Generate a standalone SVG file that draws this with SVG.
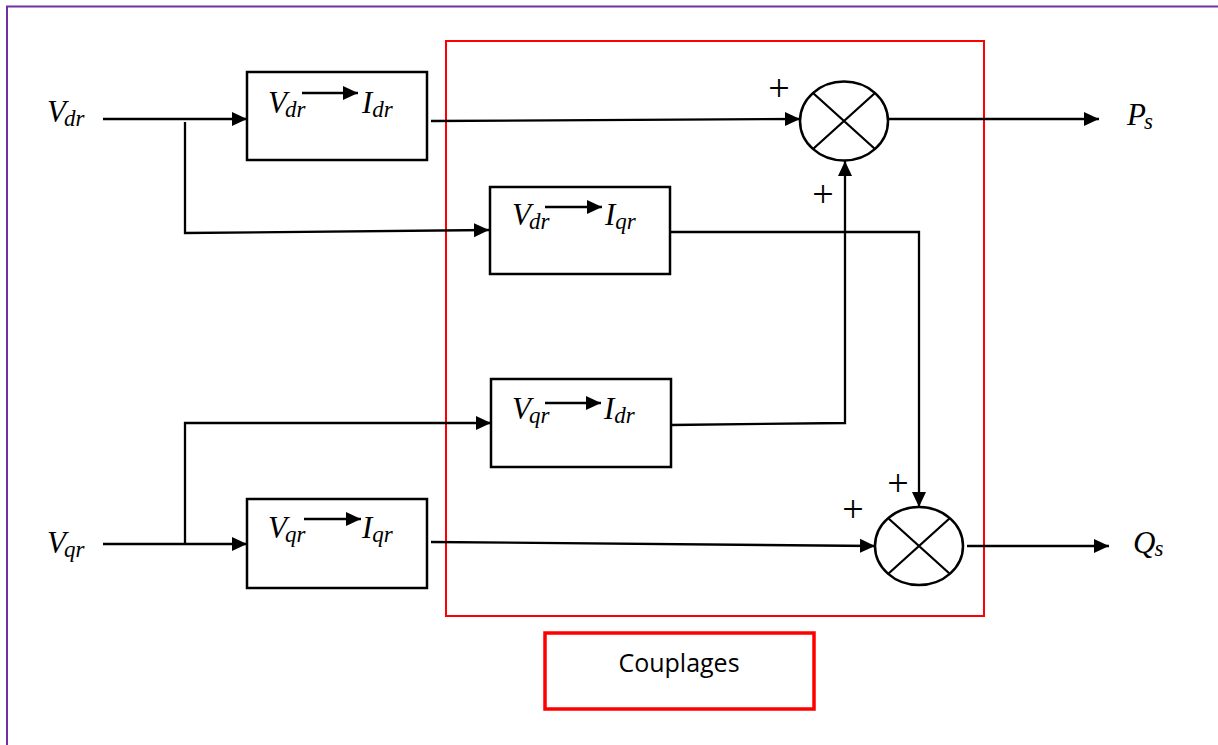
<svg xmlns="http://www.w3.org/2000/svg" width="1218" height="745" viewBox="0 0 1218 745">
<style>
.m{font-family:"Liberation Serif","DejaVu Serif",serif;font-style:italic;font-size:31px;fill:#000}
.s{font-size:23px}
.plus{font-family:"Liberation Serif",serif;font-size:38px;fill:#000;text-anchor:middle}
.box{fill:#fff;stroke:#000;stroke-width:2.5}
.ln{fill:none;stroke:#000;stroke-width:2.3}
.sum{fill:#fff;stroke:#000;stroke-width:2.5}
.red{fill:none;stroke:#ff0000;stroke-width:2}
.red2{fill:#fff;stroke:#ff0000;stroke-width:3.5}
.lbl{font-family:"Open Sans","Liberation Sans",sans-serif;font-size:25px;fill:#000;text-anchor:middle}
</style>
<defs>
<marker id="ah" markerUnits="userSpaceOnUse" markerWidth="16" markerHeight="16" viewBox="0 0 16 16" refX="15" refY="8" orient="auto">
<path d="M0,1 L15,8 L0,15 Z" fill="#000"/>
</marker>
</defs>
<rect width="1218" height="745" fill="#fff"/>
<path d="M7,745 V6.5 H1218" fill="none" stroke="#7030A0" stroke-width="2"/>

<g id="coupling-frame">
<rect class="red" x="446" y="41" width="538" height="575"/>
</g>

<g id="connectors">
<path class="ln" d="M103,119 H247" marker-end="url(#ah)"/>
<path class="ln" d="M185,122 V233 L489,230" marker-end="url(#ah)"/>
<path class="ln" d="M431,121 L800,119" marker-end="url(#ah)"/>
<path class="ln" d="M889,119 H1099" marker-end="url(#ah)"/>
<path class="ln" d="M670,232 H919 V507" marker-end="url(#ah)"/>
<path class="ln" d="M103,544 H247" marker-end="url(#ah)"/>
<path class="ln" d="M185,544 V423 H491" marker-end="url(#ah)"/>
<path class="ln" d="M671,425 L845,423 V161" marker-end="url(#ah)"/>
<path class="ln" d="M431,542 L875,546" marker-end="url(#ah)"/>
<path class="ln" d="M967,546 H1109" marker-end="url(#ah)"/>
</g>

<g id="in-vdr"><text class="m" x="47" y="122">V<tspan class="s" dx="-2" dy="4">dr</tspan></text></g>
<g id="in-vqr"><text class="m" x="47" y="553">V<tspan class="s" dx="-2" dy="4">qr</tspan></text></g>
<g id="out-ps"><text class="m" x="1127" y="125">P<tspan class="s" dx="-2" dy="4">s</tspan></text></g>
<g id="out-qs"><text class="m" x="1133" y="553">Q<tspan class="s" dx="-1" dy="3">s</tspan></text></g>

<g id="block-vdr-idr">
<rect class="box" x="247" y="72" width="180" height="88"/>
<text class="m" x="268" y="113">V<tspan class="s" dx="-2" dy="4">dr</tspan></text>
<path class="ln" d="M302,93 H358" marker-end="url(#ah)"/>
<text class="m" x="362" y="113">I<tspan class="s" dy="4">dr</tspan></text>
</g>

<g id="block-vdr-iqr">
<rect class="box" x="490" y="187" width="180" height="87"/>
<text class="m" x="512" y="225">V<tspan class="s" dx="-2" dy="4">dr</tspan></text>
<path class="ln" d="M545,207 H602" marker-end="url(#ah)"/>
<text class="m" x="605" y="225">I<tspan class="s" dy="4">qr</tspan></text>
</g>

<g id="block-vqr-idr">
<rect class="box" x="491" y="379" width="180" height="88"/>
<text class="m" x="512" y="419">V<tspan class="s" dx="-2" dy="4">qr</tspan></text>
<path class="ln" d="M545,403 H601" marker-end="url(#ah)"/>
<text class="m" x="604" y="419">I<tspan class="s" dy="4">dr</tspan></text>
</g>

<g id="block-vqr-iqr">
<rect class="box" x="247" y="499" width="180" height="89"/>
<text class="m" x="268" y="538">V<tspan class="s" dx="-2" dy="4">qr</tspan></text>
<path class="ln" d="M304,519 H361" marker-end="url(#ah)"/>
<text class="m" x="362" y="538">I<tspan class="s" dy="4">qr</tspan></text>
</g>

<g id="sum-ps">
<ellipse class="sum" cx="844" cy="121" rx="44" ry="39.5"/>
<path class="ln" d="M813,93 L875,149 M875,93 L813,149"/>
<text class="plus" x="779" y="101">+</text>
<text class="plus" x="823" y="207">+</text>
</g>

<g id="sum-qs">
<ellipse class="sum" cx="919" cy="546" rx="44" ry="39"/>
<path class="ln" d="M888,518 L950,574 M950,518 L888,574"/>
<text class="plus" x="853" y="522">+</text>
<text class="plus" x="898" y="496">+</text>
</g>

<g id="label-couplages">
<rect class="red2" x="545" y="633" width="269" height="76"/>
<text class="lbl" x="679" y="672">Couplages</text>
</g>
</svg>
